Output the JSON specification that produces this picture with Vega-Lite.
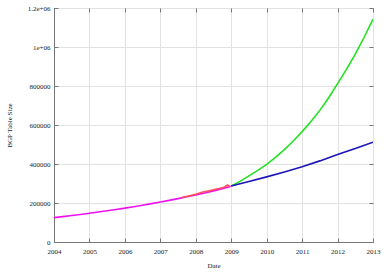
{
  "$schema": "https://vega.github.io/schema/vega-lite/v6.json",
  "width": 319,
  "height": 234,
  "autosize": "none",
  "padding": {"left": 54, "top": 8, "right": 14, "bottom": 31},
  "background": "white",
  "config": {
    "font": "Liberation Serif",
    "view": {"stroke": "#777777", "strokeWidth": 1},
    "axis": {
      "labelFont": "Liberation Serif", "titleFont": "Liberation Serif",
      "labelFontSize": 7, "titleFontSize": 7, "titleFontWeight": "normal",
      "labelColor": "#222222", "titleColor": "#222222",
      "gridColor": "#e2e2e2", "gridWidth": 1, "gridOpacity": 1,
      "domainColor": "#777777", "tickColor": "#777777", "tickSize": -4
    }
  },
  "datasets": {
    "lines": [
      {"year": 2004.0, "size": 125000, "series": "fit"},
      {"year": 2004.25, "size": 130200, "series": "fit"},
      {"year": 2004.5, "size": 135700, "series": "fit"},
      {"year": 2004.75, "size": 141400, "series": "fit"},
      {"year": 2005.0, "size": 147400, "series": "fit"},
      {"year": 2005.25, "size": 153600, "series": "fit"},
      {"year": 2005.5, "size": 160000, "series": "fit"},
      {"year": 2005.75, "size": 166700, "series": "fit"},
      {"year": 2006.0, "size": 173700, "series": "fit"},
      {"year": 2006.25, "size": 181000, "series": "fit"},
      {"year": 2006.5, "size": 188700, "series": "fit"},
      {"year": 2006.75, "size": 196600, "series": "fit"},
      {"year": 2007.0, "size": 204800, "series": "fit"},
      {"year": 2007.25, "size": 213400, "series": "fit"},
      {"year": 2007.5, "size": 222400, "series": "fit"},
      {"year": 2007.75, "size": 231700, "series": "fit"},
      {"year": 2008.0, "size": 241500, "series": "fit"},
      {"year": 2008.25, "size": 251600, "series": "fit"},
      {"year": 2008.5, "size": 262200, "series": "fit"},
      {"year": 2008.75, "size": 273200, "series": "fit"},
      {"year": 2009.0, "size": 286000, "series": "fit"},
      {"year": 2007.6, "size": 228000, "series": "raw"},
      {"year": 2007.8, "size": 236000, "series": "raw"},
      {"year": 2008.0, "size": 245000, "series": "raw"},
      {"year": 2008.2, "size": 256000, "series": "raw"},
      {"year": 2008.35, "size": 262000, "series": "raw"},
      {"year": 2008.5, "size": 268000, "series": "raw"},
      {"year": 2008.65, "size": 274000, "series": "raw"},
      {"year": 2008.8, "size": 281000, "series": "raw"},
      {"year": 2008.9, "size": 292000, "series": "raw"},
      {"year": 2008.97, "size": 283000, "series": "raw"},
      {"year": 2009.0, "size": 287000, "series": "high"},
      {"year": 2009.25, "size": 311000, "series": "high"},
      {"year": 2009.5, "size": 339000, "series": "high"},
      {"year": 2009.75, "size": 367000, "series": "high"},
      {"year": 2010.0, "size": 398000, "series": "high"},
      {"year": 2010.25, "size": 434000, "series": "high"},
      {"year": 2010.5, "size": 474000, "series": "high"},
      {"year": 2010.75, "size": 518000, "series": "high"},
      {"year": 2011.0, "size": 566000, "series": "high"},
      {"year": 2011.25, "size": 618000, "series": "high"},
      {"year": 2011.5, "size": 675000, "series": "high"},
      {"year": 2011.75, "size": 740000, "series": "high"},
      {"year": 2012.0, "size": 812000, "series": "high"},
      {"year": 2012.25, "size": 885000, "series": "high"},
      {"year": 2012.5, "size": 963000, "series": "high"},
      {"year": 2012.75, "size": 1050000, "series": "high"},
      {"year": 2013.0, "size": 1143000, "series": "high"},
      {"year": 2009.0, "size": 287000, "series": "low"},
      {"year": 2009.5, "size": 310000, "series": "low"},
      {"year": 2010.0, "size": 334000, "series": "low"},
      {"year": 2010.5, "size": 359000, "series": "low"},
      {"year": 2011.0, "size": 386000, "series": "low"},
      {"year": 2011.5, "size": 416000, "series": "low"},
      {"year": 2012.0, "size": 449000, "series": "low"},
      {"year": 2012.5, "size": 479000, "series": "low"},
      {"year": 2013.0, "size": 512000, "series": "low"}
    ]
  },
  "data": {"name": "lines"},
  "resolve": {"axis": {"x": "independent", "y": "independent"}},
  "layer": [
    {
      "mark": {"type": "line", "strokeWidth": 1.6, "clip": true},
      "encoding": {
        "x": {
          "field": "year", "type": "quantitative", "title": "Date",
          "scale": {"domain": [2004, 2013], "nice": false, "zero": false},
          "axis": {"values": [2004,2005,2006,2007,2008,2009,2010,2011,2012,2013], "format": "d", "labelPadding": 9, "titleY": 19, "labelFlush": false, "grid": true}
        },
        "y": {
          "field": "size", "type": "quantitative", "title": "BGP Table Size",
          "scale": {"domain": [0, 1200000], "nice": false},
          "axis": {"values": [0,200000,400000,600000,800000,1000000,1200000],
            "labelExpr": "datum.value == 1000000 ? '1e+06' : datum.value == 1200000 ? '1.2e+06' : format(datum.value, 'd')",
            "labelPadding": 8, "titleX": -42, "labelFlush": false, "grid": true}
        },
        "color": {
          "field": "series", "type": "nominal", "legend": null,
          "scale": {"domain": ["raw", "fit", "high", "low"], "range": ["#ff5060", "#ee11ee", "#22e022", "#1c14b8"]}
        },
        "order": {"field": "year"},
        "detail": {"field": "series"}
      }
    },
    {
      "mark": {"type": "line", "opacity": 0},
      "encoding": {
        "x": {
          "field": "year", "type": "quantitative",
          "axis": {"orient": "top", "values": [2004,2005,2006,2007,2008,2009,2010,2011,2012,2013], "labels": false, "title": null, "grid": false, "domain": false}
        },
        "y": {
          "field": "size", "type": "quantitative",
          "axis": {"orient": "right", "values": [0,200000,400000,600000,800000,1000000,1200000], "labels": false, "title": null, "grid": false, "domain": false}
        },
        "detail": {"field": "series"}
      }
    }
  ]
}
